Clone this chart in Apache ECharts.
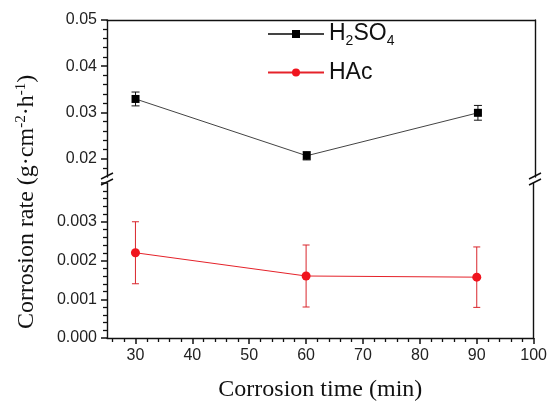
<!DOCTYPE html>
<html>
<head>
<meta charset="utf-8">
<script src="https://cdn.jsdelivr.net/npm/echarts@6/dist/echarts.min.js"></script>
<style>html,body{margin:0;padding:0;background:#fff}#c{width:550px;height:403px}</style>
</head>
<body>
<div id="c"></div>
<script>
// ---- data ----
const times = [30, 60, 90];
const h2so4 = [0.0329, 0.0206, 0.0299];
const h2so4Err = [0.0015, 0.0009, 0.0016];
const hac = [0.0022, 0.0016, 0.00157];
const hacErr = [0.0008, 0.0008, 0.00078];
const xMajorTicks = [30, 40, 50, 60, 70, 80, 90, 100];
const xMinorTicks = [26, 28, 32, 34, 36, 38, 42, 44, 46, 48, 52, 54, 56, 58, 62, 64, 66, 68, 72, 74, 76, 78, 82, 84, 86, 88, 92, 94, 96, 98];
const yTopMajor = [0.02, 0.03, 0.04, 0.05];
const yTopMinor = [0.018, 0.022, 0.024, 0.026, 0.028, 0.032, 0.034, 0.036, 0.038, 0.042, 0.044, 0.046, 0.048];
const yBotMajor = [0.000, 0.001, 0.002, 0.003];

const chart = echarts.init(document.getElementById('c'), null, {renderer: 'canvas'});
const SANS = 'Liberation Sans';
const SERIF = 'Liberation Serif';
const AX = '#111';

function errItem(color, capW) {
  return function (params, api) {
    const x = api.value(0), lo = api.value(1), hi = api.value(2);
    const a = api.coord([x, lo]), b = api.coord([x, hi]);
    const st = {stroke: color, lineWidth: 1};
    return {type: 'group', children: [
      {type: 'line', shape: {x1: a[0], y1: a[1], x2: b[0], y2: b[1]}, style: st},
      {type: 'line', shape: {x1: a[0] - capW, y1: a[1], x2: a[0] + capW, y2: a[1]}, style: st},
      {type: 'line', shape: {x1: b[0] - capW, y1: b[1], x2: b[0] + capW, y2: b[1]}, style: st}
    ]};
  };
}

const labelStyle = {fontFamily: SANS, fontSize: 16, color: '#222'};
const majorTickStyle = {color: AX, width: 1.5};
const minorTickStyle = {color: AX, width: 1.3};

chart.setOption({
  backgroundColor: '#fff',
  animation: false,
  grid: [
    {left: 107, right: 15, top: 20, height: 157},
    {left: 107, right: 15, top: 183, bottom: 64}
  ],
  xAxis: [
    {gridIndex: 0, type: 'value', position: 'top', min: 25, max: 100,
      axisLine: {show: true, lineStyle: {color: AX, width: 1.4}}, axisTick: {show: false},
      axisLabel: {show: false}, splitLine: {show: false}},
    {gridIndex: 1, type: 'value', position: 'bottom', min: 25, max: 100,
      name: 'Corrosion time (min)', nameLocation: 'middle', nameGap: 40,
      nameTextStyle: {fontFamily: SERIF, fontSize: 24, color: '#111'},
      axisLine: {show: true, lineStyle: {color: AX, width: 1.4}},
      axisTick: {show: true, customValues: xMajorTicks, length: 6, lineStyle: majorTickStyle},
      axisLabel: Object.assign({customValues: xMajorTicks, margin: 10}, labelStyle),
      splitLine: {show: false}},
    {gridIndex: 1, type: 'value', position: 'bottom', offset: 0, min: 25, max: 100,
      axisLine: {show: false},
      axisTick: {show: true, customValues: xMinorTicks, length: 4, lineStyle: minorTickStyle},
      axisLabel: {show: false}, splitLine: {show: false}}
  ],
  yAxis: [
    {gridIndex: 0, type: 'value', position: 'left', min: 0.016, max: 0.05,
      axisLine: {show: true, lineStyle: {color: AX, width: 1.4}},
      axisTick: {show: true, customValues: yTopMajor, length: 6, lineStyle: majorTickStyle},
      axisLabel: Object.assign({customValues: yTopMajor, margin: 10, formatter: v => v.toFixed(2)}, labelStyle),
      splitLine: {show: false}},
    {gridIndex: 0, type: 'value', position: 'left', offset: 0, min: 0.016, max: 0.05,
      axisLine: {show: false},
      axisTick: {show: true, customValues: yTopMinor, length: 4, lineStyle: minorTickStyle},
      axisLabel: {show: false}, splitLine: {show: false}},
    {gridIndex: 0, type: 'value', position: 'right', min: 0.016, max: 0.05,
      axisLine: {show: true, lineStyle: {color: AX, width: 1.4}}, axisTick: {show: false},
      axisLabel: {show: false}, splitLine: {show: false}},
    {gridIndex: 1, type: 'value', position: 'left', min: 0, max: 0.004, interval: 0.001,
      axisLine: {show: true, lineStyle: {color: AX, width: 1.4}},
      axisTick: {show: true, length: 6, lineStyle: majorTickStyle},
      minorTick: {show: true, splitNumber: 5, length: 4, lineStyle: minorTickStyle},
      axisLabel: Object.assign({customValues: yBotMajor, margin: 10, formatter: v => v.toFixed(3)}, labelStyle),
      splitLine: {show: false}},
    {gridIndex: 1, type: 'value', position: 'right', min: 0, max: 0.004,
      axisLine: {show: true, lineStyle: {color: AX, width: 1.4}}, axisTick: {show: false},
      axisLabel: {show: false}, splitLine: {show: false}}
  ],
  legend: {
    data: ['H2SO4', 'HAc'],
    orient: 'vertical', left: 262, top: 15, itemGap: 13,
    itemWidth: 56, itemHeight: 10,
    formatter: n => n === 'H2SO4' ? '{n|H}{s|2}{n|SO}{s|4}' : '{n|HAc}',
    textStyle: {
      rich: {
        n: {fontFamily: SANS, fontSize: 23, color: '#111', lineHeight: 28},
        s: {fontFamily: SANS, fontSize: 14, color: '#111', lineHeight: 28, padding: [14, 0, 0, 0]}
      }
    }
  },
  graphic: [
    {type: 'text', x: 27, y: 202, rotation: Math.PI / 2,
      style: {
        text: 'Corrosion rate (g·cm{sup|-2}·h{sup|-1})',
        font: '24px "Liberation Serif"', fill: '#111', align: 'center', verticalAlign: 'middle',
        rich: {sup: {fontFamily: SERIF, fontSize: 15, fill: '#111', padding: [0, 0, 12, 0]}}
      }},
    {type: 'group', children: [
      {type: 'line', shape: {x1: 101, y1: 179, x2: 113, y2: 173}, style: {stroke: AX, lineWidth: 1.4}},
      {type: 'line', shape: {x1: 101, y1: 185, x2: 113, y2: 179}, style: {stroke: AX, lineWidth: 1.4}},
      {type: 'line', shape: {x1: 529, y1: 179, x2: 541, y2: 173}, style: {stroke: AX, lineWidth: 1.4}},
      {type: 'line', shape: {x1: 529, y1: 185, x2: 541, y2: 179}, style: {stroke: AX, lineWidth: 1.4}}
    ]}
  ],
  series: [
    {type: 'custom', name: 'h2so4err', xAxisIndex: 0, yAxisIndex: 0, z: 2,
      renderItem: errItem('#111', 4), encode: {x: 0, y: [1, 2]},
      data: times.map((t, i) => [t, h2so4[i] - h2so4Err[i], h2so4[i] + h2so4Err[i]])},
    {type: 'line', name: 'H2SO4', xAxisIndex: 0, yAxisIndex: 0, z: 3,
      data: times.map((t, i) => [t, h2so4[i]]),
      symbol: 'rect', symbolSize: 8, itemStyle: {color: '#000'},
      lineStyle: {color: '#444', width: 1}},
    {type: 'custom', name: 'hacerr', xAxisIndex: 1, yAxisIndex: 3, z: 2,
      renderItem: errItem('#d9262c', 3.5), encode: {x: 0, y: [1, 2]},
      data: times.map((t, i) => [t, hac[i] - hacErr[i], hac[i] + hacErr[i]])},
    {type: 'line', name: 'HAc', xAxisIndex: 1, yAxisIndex: 3, z: 3,
      data: times.map((t, i) => [t, hac[i]]),
      symbol: 'circle', symbolSize: 9, itemStyle: {color: '#f0141e'},
      lineStyle: {color: '#e5222a', width: 1}}
  ]
});
</script>
</body>
</html>
